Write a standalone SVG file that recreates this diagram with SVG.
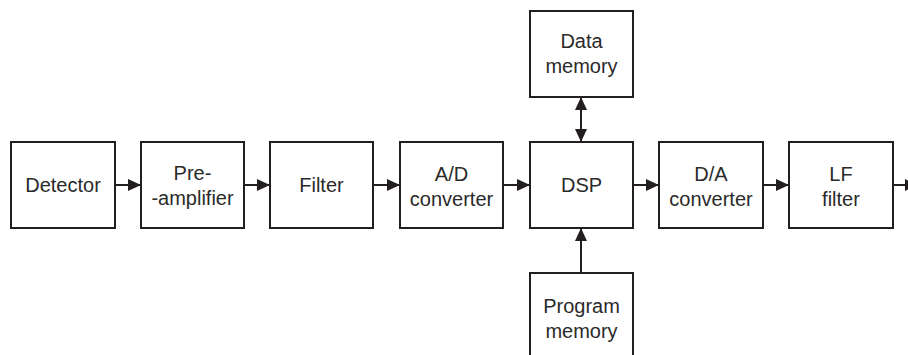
<svg xmlns="http://www.w3.org/2000/svg" width="908" height="355" viewBox="0 0 908 355">
<style>
.box{fill:#fff;stroke:#231f20;stroke-width:2}
.lbl{font-family:"Liberation Sans",Arial,sans-serif;font-size:20px;fill:#2a2a2a;text-anchor:middle}
.con{fill:none;stroke:#231f20;stroke-width:2}
</style>
<defs>
<marker id="ah" markerUnits="userSpaceOnUse" markerWidth="14" markerHeight="13" refX="13" refY="6.5" orient="auto-start-reverse" viewBox="0 0 14 13">
<path d="M0,0.5 L13,6.5 L0,12.5 z" fill="#231f20"/>
</marker>
</defs>
<rect width="908" height="355" fill="#fff"/>
<g id="detector"><rect class="box" x="11" y="142" width="104" height="86"/><text class="lbl" x="63" y="192">Detector</text></g>
<g id="preamp"><rect class="box" x="141" y="142" width="103" height="86"/><text class="lbl" x="192.5" y="180">Pre-</text><text class="lbl" x="192.5" y="205">-amplifier</text></g>
<g id="filter"><rect class="box" x="270" y="142" width="103" height="86"/><text class="lbl" x="321.5" y="192">Filter</text></g>
<g id="adc"><rect class="box" x="400" y="142" width="103" height="86"/><text class="lbl" x="451.5" y="181">A/D</text><text class="lbl" x="451.5" y="206">converter</text></g>
<g id="dsp"><rect class="box" x="530" y="142" width="103" height="86"/><text class="lbl" x="581.5" y="192">DSP</text></g>
<g id="dac"><rect class="box" x="659" y="142" width="104" height="86"/><text class="lbl" x="711" y="181">D/A</text><text class="lbl" x="711" y="206">converter</text></g>
<g id="lf"><rect class="box" x="789" y="142" width="104" height="86"/><text class="lbl" x="841" y="181">LF</text><text class="lbl" x="841" y="206">filter</text></g>
<g id="datamem"><rect class="box" x="530" y="11" width="103" height="86"/><text class="lbl" x="581.5" y="48">Data</text><text class="lbl" x="581.5" y="73">memory</text></g>
<g id="progmem"><rect class="box" x="530" y="273" width="103" height="86"/><text class="lbl" x="581.5" y="313">Program</text><text class="lbl" x="581.5" y="338">memory</text></g>
<g id="connectors">
<line class="con" x1="115" y1="185" x2="141" y2="185" marker-end="url(#ah)"/>
<line class="con" x1="244" y1="185" x2="270" y2="185" marker-end="url(#ah)"/>
<line class="con" x1="373" y1="185" x2="400" y2="185" marker-end="url(#ah)"/>
<line class="con" x1="503" y1="185" x2="530" y2="185" marker-end="url(#ah)"/>
<line class="con" x1="633" y1="185" x2="659" y2="185" marker-end="url(#ah)"/>
<line class="con" x1="763" y1="185" x2="789" y2="185" marker-end="url(#ah)"/>
<line class="con" x1="893" y1="185" x2="918" y2="185" marker-end="url(#ah)"/>
<line class="con" x1="581" y1="97" x2="581" y2="142" marker-start="url(#ah)" marker-end="url(#ah)"/>
<line class="con" x1="581" y1="273" x2="581" y2="228" marker-end="url(#ah)"/>
</g>
</svg>
